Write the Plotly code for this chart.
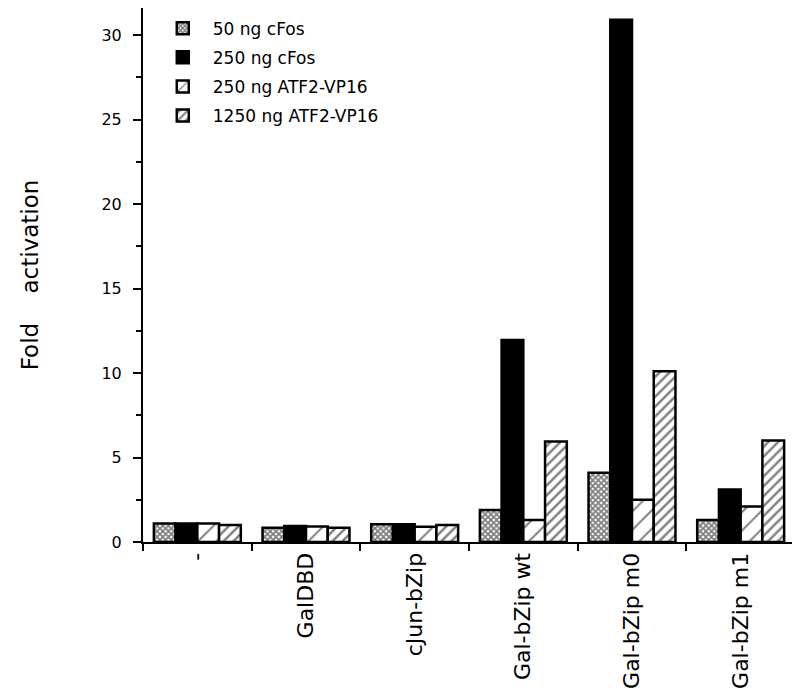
import plotly.graph_objects as go

categories = ["-", "GalDBD", "cJun-bZip", "Gal-bZip wt", "Gal-bZip m0", "Gal-bZip m1"]
cfos_50 = [1.1, 0.85, 1.05, 1.9, 4.1, 1.3]
cfos_250 = [1.1, 0.95, 1.05, 11.95, 30.9, 3.1]
atf_250 = [1.1, 0.92, 0.9, 1.3, 2.5, 2.1]
atf_1250 = [1.0, 0.85, 1.0, 5.95, 10.1, 6.0]
series_names = ["50 ng cFos", "250 ng cFos", "250 ng ATF2-VP16", "1250 ng ATF2-VP16"]
y_ticks = [0, 5, 10, 15, 20, 25, 30]

FONT = "DejaVu Sans"

patterns = [
    dict(shape="x", size=4, solidity=0.7, fgcolor="black", bgcolor="white", fillmode="overlay"),
    None,
    dict(shape="/", size=13, solidity=0.15, fgcolor="black", bgcolor="white", fillmode="overlay"),
    dict(shape="/", size=7, solidity=0.35, fgcolor="black", bgcolor="white", fillmode="overlay"),
]
series_values = [cfos_50, cfos_250, atf_250, atf_1250]

fig = go.Figure()
for i, (name, vals, pat) in enumerate(zip(series_names, series_values, patterns)):
    marker = dict(color="white" if pat else "black", line=dict(color="black", width=2.5))
    if pat:
        marker["pattern"] = pat
    fig.add_trace(go.Bar(name=name, x=categories, y=vals, marker=marker, legendgroup=f"g{i}"))

# the page adds an 8px body margin, so the figure is sized to fit the window
fig.update_layout(
    width=792, height=684,
    margin=dict(l=135, r=5, t=0, b=150, autoexpand=False),
    paper_bgcolor="white", plot_bgcolor="white",
    barmode="group", bargap=0.2, bargroupgap=0,
    font=dict(family=FONT, color="black"),
    showlegend=True,
    legend=dict(x=0.015, y=0.995, xanchor="left", yanchor="top", itemwidth=50,
                font=dict(size=17, family=FONT, color="black"),
                bgcolor="rgba(0,0,0,0)", tracegroupgap=4),
)
fig.update_xaxes(
    type="category", showline=True, linecolor="black", linewidth=2, mirror=True,
    ticks="outside", tickson="boundaries", ticklen=7, tickwidth=2, tickcolor="black",
    tickangle=-90, tickfont=dict(size=22, family=FONT, color="black"),
    showgrid=False, zeroline=False, automargin=False,
)
fig.update_yaxes(
    range=[0, 31.6], showline=True, linecolor="black", linewidth=2, mirror=True,
    tickvals=y_ticks, ticks="outside", ticklen=8, tickwidth=2, tickcolor="black",
    minor=dict(dtick=2.5, tick0=0, ticks="outside", ticklen=5, tickwidth=2, tickcolor="black", showgrid=False),
    tickfont=dict(size=16, family=FONT, color="black"), ticklabelstandoff=8,
    showgrid=False, zeroline=False, automargin=False,
    title=dict(text="Fold    activation", font=dict(size=23, family=FONT, color="black"), standoff=56),
)

fig.write_html("out.html")
